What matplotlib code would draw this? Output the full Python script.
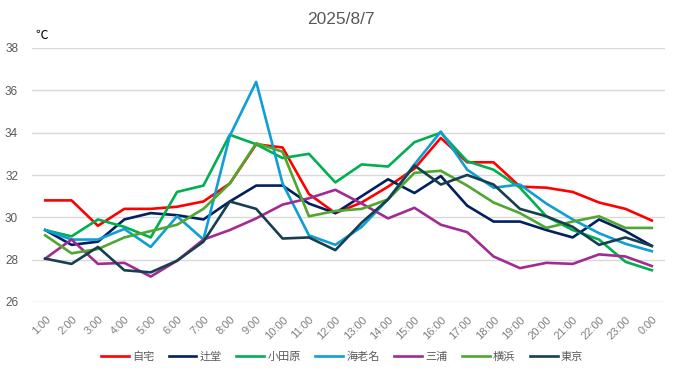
import matplotlib
matplotlib.use("Agg")
import matplotlib.pyplot as plt
import matplotlib.transforms as mtransforms
import numpy as np

plt.rcParams['font.family'] = ['Noto Sans CJK JP', 'DejaVu Sans']

hours = ["1:00", "2:00", "3:00", "4:00", "5:00", "6:00", "7:00", "8:00", "9:00", "10:00",
         "11:00", "12:00", "13:00", "14:00", "15:00", "16:00", "17:00", "18:00", "19:00",
         "20:00", "21:00", "22:00", "23:00", "0:00"]

jitaku = [30.8, 30.8, 29.6, 30.4, 30.4, 30.5, 30.75, 31.6, 33.45, 33.3, 31.1, 30.2, 30.7, 31.45,
          32.3, 33.75, 32.6, 32.6, 31.45, 31.4, 31.2, 30.7, 30.4, 29.85]
tsujido = [29.4, 28.7, 28.85, 29.9, 30.2, 30.1, 29.9, 30.75, 31.5, 31.5, 30.65, 30.2, 31.0, 31.8,
           31.15, 31.95, 30.55, 29.8, 29.8, 29.4, 29.05, 29.9, 29.35, 28.65]
odawara = [29.4, 29.1, 29.9, 29.55, 29.05, 31.2, 31.5, 33.9, 33.45, 32.8, 33.0, 31.65, 32.5, 32.4,
           33.55, 34.0, 32.65, 32.25, 31.4, 30.05, 29.4, 28.95, 27.9, 27.5]
ebina = [29.4, 28.95, 28.95, 29.45, 28.6, 30.05, 28.95, 33.85, 36.4, 31.6, 29.15, 28.7, 29.55, 30.85,
         32.5, 34.05, 32.25, 31.4, 31.55, 30.65, 29.9, 29.25, 28.75, 28.4]
miura = [28.05, 28.95, 27.8, 27.85, 27.2, 27.95, 28.95, 29.4, 29.95, 30.6, 30.9, 31.3, 30.65, 29.95,
         30.45, 29.65, 29.3, 28.15, 27.6, 27.85, 27.8, 28.25, 28.15, 27.7]
yokohama = [29.15, 28.3, 28.5, 29.05, 29.35, 29.65, 30.4, 31.6, 33.5, 33.1, 30.05, 30.3, 30.4, 30.85,
            32.1, 32.2, 31.5, 30.7, 30.2, 29.5, 29.8, 30.05, 29.5, 29.5]
tokyo = [28.05, 27.8, 28.6, 27.5, 27.4, 27.95, 28.85, 30.75, 30.4, 29.0, 29.05, 28.45, 29.75, 30.85,
         32.45, 31.55, 32.0, 31.55, 30.4, 30.05, 29.55, 28.7, 29.05, 28.65]

series_names = ["自宅", "辻堂", "小田原", "海老名", "三浦", "横浜", "東京"]
series_values = [jitaku, tsujido, odawara, ebina, miura, yokohama, tokyo]
colors = ["#FF0000", "#002060", "#00B050", "#0F9ED5", "#A02B93", "#4EA72E", "#173F50"]

yticks = [26, 28, 30, 32, 34, 36, 38]
title = "2025/8/7"
unit = "℃"

num_font = ['Liberation Sans', 'DejaVu Sans']

fig = plt.figure(figsize=(6.81, 3.79), dpi=100)
ax = fig.add_axes([32 / 681, 1 - 302 / 379, 633 / 681, 254 / 379])

x = np.arange(len(hours))
for name, vals, c in zip(series_names, series_values, colors):
    ax.plot(x, vals, color=c, lw=1.9, label=name, solid_joinstyle='round')

ax.set_xlim(-0.5, len(hours) - 0.5)
ax.set_ylim(26, 38)
ax.set_yticks(yticks)
ax.set_yticklabels([str(v) for v in yticks], fontsize=8.5, color="#595959", family=num_font)
ax.set_xticks(x)
ax.set_xticklabels(hours, rotation=45, fontsize=8, color="#7F7F7F", family=num_font,
                   ha='right', va='top', rotation_mode='anchor')
offset = mtransforms.ScaledTranslation(-3 / 100, 0, fig.dpi_scale_trans)
for lbl in ax.get_xticklabels():
    lbl.set_transform(lbl.get_transform() + offset)
ax.tick_params(axis='both', length=0)
ax.tick_params(axis='y', pad=10)
ax.tick_params(axis='x', pad=9)
ax.grid(axis='y', color="#D9D9D9", lw=1)
ax.set_axisbelow(True)
for s in ax.spines.values():
    s.set_visible(False)

fig.text(341 / 681, 1 - 19 / 379, title, ha='center', va='center', fontsize=12.5,
         color="#595959", family=num_font)
fig.text(35 / 681, 1 - 35 / 379, unit, ha='left', va='center', fontsize=9, color="#000000")

leg = fig.legend(loc='center', bbox_to_anchor=(342 / 681, 1 - 357 / 379), ncol=7, frameon=False,
                 fontsize=8, handlelength=2.5, handletextpad=0.3, columnspacing=1.3)
for t in leg.get_texts():
    t.set_color("#595959")

fig.savefig("out.png", dpi=100)
